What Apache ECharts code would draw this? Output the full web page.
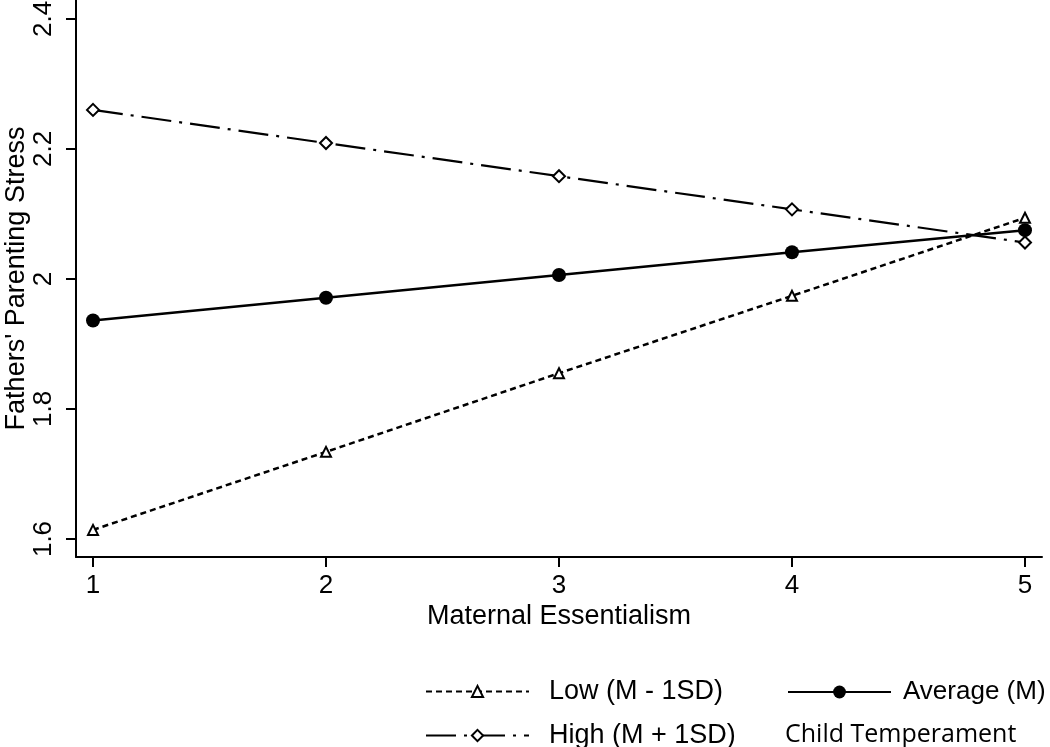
<!DOCTYPE html>
<html><head><meta charset="utf-8">
<script src="https://cdn.jsdelivr.net/npm/echarts@6/dist/echarts.min.js"></script>
<style>html,body{margin:0;padding:0;background:#fff}#c{width:1050px;height:747px}</style>
</head><body><div id="c"></div>
<script>
const xValues = [1, 2, 3, 4, 5];
const lowValues = [1.614, 1.734, 1.855, 1.974, 2.094];
const avgValues = [1.936, 1.971, 2.006, 2.041, 2.075];
const highValues = [2.260, 2.209, 2.158, 2.107, 2.056];
const yTicks = [1.6, 1.8, 2.0, 2.2, 2.4];
const xTicks = [1, 2, 3, 4, 5];
const seriesNames = ['Low (M - 1SD)', 'Average (M)', 'High (M + 1SD)'];
const legendTitle = 'Child Temperament';

const pair = v => xValues.map((x, i) => [x, v[i]]);
const font = 'Liberation Sans, Arial, sans-serif';
const chart = echarts.init(document.getElementById('c'));
chart.setOption({
  animation: false,
  backgroundColor: '#fff',
  grid: { left: 76, right: 8, top: 0, bottom: 190, containLabel: false, outerBoundsMode: 'none' },
  xAxis: {
    type: 'value', min: 0.927, max: 5.073,
    name: 'Maternal Essentialism', nameLocation: 'middle', nameGap: 46, nameMoveOverlap: false,
    nameTextStyle: { fontFamily: font, fontSize: 27, color: '#000' },
    axisLine: { show: true, onZero: false, lineStyle: { color: '#000', width: 2 } },
    axisTick: { show: true, length: 10, customValues: xTicks, lineStyle: { color: '#000', width: 2 } },
    axisLabel: { customValues: xTicks, margin: 16, fontFamily: font, fontSize: 26, color: '#000' },
    splitLine: { show: false }
  },
  yAxis: {
    type: 'value', min: 1.5723, max: 2.429,
    name: "Fathers' Parenting Stress", nameLocation: 'middle', nameGap: 46, nameRotate: 90, nameMoveOverlap: false,
    nameTextStyle: { fontFamily: font, fontSize: 27, color: '#000' },
    axisLine: { show: true, onZero: false, lineStyle: { color: '#000', width: 2 } },
    axisTick: { show: true, length: 10, customValues: yTicks, lineStyle: { color: '#000', width: 2 } },
    axisLabel: { customValues: yTicks, rotate: 90, margin: 19, fontFamily: font, fontSize: 26, color: '#000',
      formatter: v => String(Math.round(v * 10) / 10) },
    splitLine: { show: false }
  },
  legend: [
    { data: [seriesNames[0]], left: 420, top: 673, itemWidth: 103, itemHeight: 14, selectedMode: false,
      textStyle: { fontFamily: font, fontSize: 27, color: '#000', padding: [0, 0, 0, 15] } },
    { data: [seriesNames[1]], left: 782, top: 674, itemWidth: 103, itemHeight: 16, selectedMode: false,
      textStyle: { fontFamily: font, fontSize: 26, color: '#000', padding: [0, 0, 0, 7] } },
    { data: [seriesNames[2]], left: 420, top: 717, itemWidth: 103, itemHeight: 14, selectedMode: false,
      textStyle: { fontFamily: font, fontSize: 27, color: '#000', padding: [0, 0, 0, 15] } }
  ],
  graphic: [
    { type: 'text', left: 785, top: 722, style: { text: legendTitle, font: '25px "Open Sans", Lato, sans-serif', fill: '#000' } }
  ],
  series: [
    { name: seriesNames[0], type: 'line', data: pair(lowValues), symbol: 'triangle', symbolSize: 10,
      lineStyle: { color: '#000', width: 2.5, type: [6, 4] },
      itemStyle: { color: '#fff', borderColor: '#000', borderWidth: 2 }, z: 3 },
    { name: seriesNames[1], type: 'line', data: pair(avgValues), symbol: 'circle', symbolSize: 14,
      lineStyle: { color: '#000', width: 2.5, type: 'solid' },
      itemStyle: { color: '#000', borderColor: '#000', borderWidth: 0 }, z: 2 },
    { name: seriesNames[2], type: 'line', data: pair(highValues), symbol: 'diamond', symbolSize: 12,
      lineStyle: { color: '#000', width: 2.2, type: [30, 8, 3, 8] },
      itemStyle: { color: '#fff', borderColor: '#000', borderWidth: 2 }, z: 4 }
  ]
});
</script></body></html>
